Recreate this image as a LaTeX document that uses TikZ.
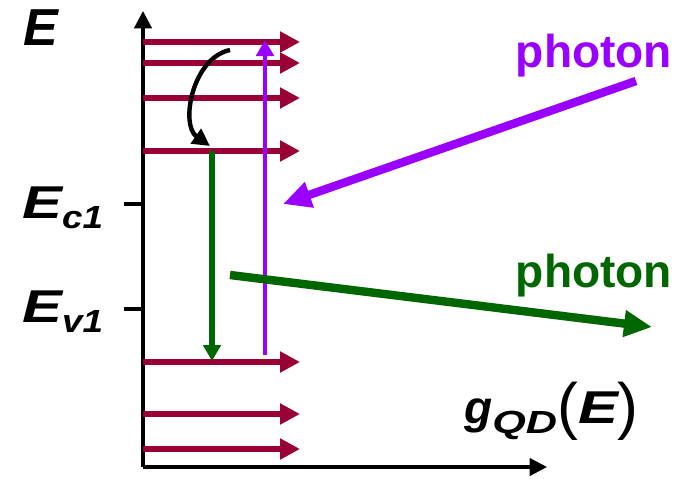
\documentclass[tikz,border=0pt]{standalone}
\usepackage{fontspec}
\setmainfont{Liberation Sans}
\usetikzlibrary{arrows.meta}
\definecolor{lvl}{HTML}{990033}
\definecolor{phviolet}{HTML}{9900FF}
\definecolor{phgreen}{HTML}{006600}
\tikzset{
  axis/.style={line width=2.4pt, -{Triangle[length=13pt,width=13pt]}},
  level/.style={line width=5pt, draw=lvl, -{Triangle[length=15pt,width=15pt]}},
  trans/.style={line width=#1, -{Triangle[length=12pt,width=13pt]}},
  bigarr/.style={line width=6.3pt, draw=#1, -{Triangle[length=21pt,width=19pt]}},
  lbl/.style={inner sep=0pt, font=\bfseries\itshape\fontsize{34.5}{40}\selectfont},
}
\newcommand{\wide}[2]{\scalebox{#1}[1]{#2}}
\newcommand{\subs}[2]{\raisebox{-8pt}{\fontsize{24}{26}\selectfont\wide{#1}{#2}}}
\begin{document}
\begin{tikzpicture}[x=0.75pt,y=-0.75pt]
  \useasboundingbox (0,0) rectangle (683,479);
  \coordinate (o) at (143,467);
  \coordinate (ytop) at (143,11);
  \coordinate (xend) at (547,467);
  \draw[axis] (o) -- (ytop);
  \draw[axis] (o) -- (xend);
  \foreach \y [count=\i] in {42,63,98,151,362,414,449} {
    \coordinate (l\i) at (143,\y);
    \draw[level] (l\i) -- ++(157,0);
  }
  \coordinate (tc) at (143,204);
  \coordinate (tv) at (143,309);
  \draw[line width=2.4pt] (tc) -- ++(-19,0);
  \draw[line width=2.4pt] (tv) -- ++(-19,0);
  \node[lbl, anchor=base west, font=\bfseries\itshape\fontsize{39}{42}\selectfont] (elbl) at (23,45) {E};
  \node[lbl, anchor=base west] (ec) at (22,218) {\wide{1.3}{E}\subs{1.15}{c1}};
  \node[lbl, anchor=base west] (ev) at (22,322) {\wide{1.3}{E}\subs{1.15}{v1}};
  \coordinate (gtop) at (212,151);
  \coordinate (gbot) at (212,361);
  \draw[trans=4pt, draw=phgreen, fill=phgreen] (gtop) -- (gbot);
  \coordinate (vbot) at (265,355);
  \coordinate (vtop) at (265,40);
  \draw[trans=3pt, draw=phviolet, fill=phviolet] (vbot) -- (vtop);
  \coordinate (cs) at (230,50);
  \coordinate (ce) at (210,146);
  \draw[line width=3.3pt, -{Triangle[length=13pt,width=13pt]}] (cs) .. controls (192,58) and (180,125) .. (ce);
  \coordinate (pa1) at (636,81);
  \coordinate (pa2) at (283,204);
  \draw[bigarr=phviolet] (pa1) -- (pa2);
  \coordinate (pe1) at (230,275);
  \coordinate (pe2) at (652,327);
  \draw[bigarr=phgreen] (pe1) -- (pe2);
  \node[font=\bfseries\fontsize{34.6}{40}\selectfont, text=phviolet, anchor=base, inner sep=0pt] (phabs) at (594,67) {photon};
  \node[font=\bfseries\fontsize{34.6}{40}\selectfont, text=phgreen, anchor=base, inner sep=0pt] (phemi) at (594,287) {photon};
  \node[lbl, anchor=base west] (gqd) at (464,423) {g\subs{1.35}{QD}\raisebox{-3pt}{\fontsize{47}{50}\selectfont\mdseries\upshape(}\wide{1.3}{E}\raisebox{-3pt}{\fontsize{47}{50}\selectfont\mdseries\upshape)}};
\end{tikzpicture}
\end{document}
